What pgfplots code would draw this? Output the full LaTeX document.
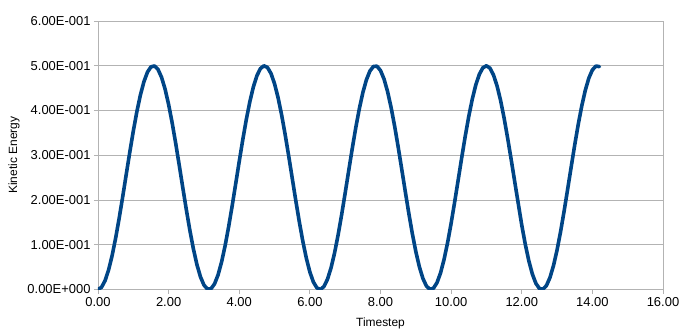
\documentclass[border=0pt]{standalone}
\usepackage{pgfplots}
\pgfplotsset{compat=1.18}
\usepackage{fontspec}
\setmainfont{Liberation Sans}
\definecolor{serblue}{HTML}{004586}
\definecolor{gridgray}{HTML}{B3B3B3}
\begin{document}
\begin{tikzpicture}
\useasboundingbox (-98bp,-46.5bp) rectangle (585bp,289.5bp);
\begin{axis}[
  scale only axis,
  width=565bp, height=268.5bp,
  xmin=0, xmax=16, ymin=0, ymax=0.6,
  xtick={0,2,4,6,8,10,12,14,16},
  xticklabels={0.00,2.00,4.00,6.00,8.00,10.00,12.00,14.00,16.00},
  ytick={0,0.1,0.2,0.3,0.4,0.5,0.6},
  yticklabels={0.00E+000,1.00E-001,2.00E-001,3.00E-001,4.00E-001,5.00E-001,6.00E-001},
  ymajorgrids,
  grid style={gridgray, line width=0.8bp},
  axis line style={gridgray, line width=0.8bp},
  tick style={gridgray, line width=0.8bp},
  tick align=outside,
  xtick pos=bottom, ytick pos=left,
  major tick length=4bp,
  ticklabel style={font=\fontsize{13}{15}\selectfont, black},
  xlabel={Timestep}, ylabel={Kinetic Energy},
  label style={font=\fontsize{12}{14}\selectfont, black},
  xlabel style={at={(axis description cs:0.5,0)}, anchor=center, yshift=-33.5bp},
  ylabel style={at={(axis description cs:0,0.5)}, anchor=center, yshift=84bp},
]
\addplot[serblue, line width=3.6bp, line join=round, line cap=round] coordinates {
(0.0,0) (0.1,0.00498) (0.2,0.01974) (0.3,0.04367) (0.4,0.07582) (0.5,0.11492) (0.6,0.15941) (0.7,0.20751) (0.8,0.25730) (0.9,0.30680)
(1.0,0.35404) (1.1,0.39713) (1.2,0.43435) (1.3,0.46422) (1.4,0.48555) (1.5,0.49749) (1.6,0.49957) (1.7,0.49169) (1.8,0.47419) (1.9,0.44774)
(2.0,0.41341) (2.1,0.37257) (2.2,0.32684) (2.3,0.27804) (2.4,0.22812) (2.5,0.17909) (2.6,0.13287) (2.7,0.09133) (2.8,0.05611) (2.9,0.02862)
(3.0,0.00996) (3.1,0.00086) (3.2,0.00170) (3.3,0.01244) (3.4,0.03265) (3.5,0.06152) (3.6,0.09791) (3.7,0.14036) (3.8,0.18719) (3.9,0.23652)
(4.0,0.28638) (4.1,0.33479) (4.2,0.37983) (4.3,0.41968) (4.4,0.45277) (4.5,0.47778) (4.6,0.49371) (4.7,0.49992) (4.8,0.49616) (4.9,0.48260)
(5.0,0.45977) (5.1,0.42856) (5.2,0.39024) (5.3,0.34635) (5.4,0.29858) (5.5,0.24890) (5.6,0.19925) (5.7,0.15163) (5.8,0.10793) (5.9,0.06989)
(6.0,0.03904) (6.1,0.01659) (6.2,0.00345) (6.3,0.00014) (6.4,0.00679) (6.5,0.02314) (6.6,0.04853) (6.7,0.08195) (6.8,0.12207) (6.9,0.16730)
(7.0,0.21582) (7.1,0.26570) (7.2,0.31496) (7.3,0.36162) (7.4,0.40383) (7.5,0.43992) (7.6,0.46844) (7.7,0.48824) (7.8,0.49854) (7.9,0.49894)
(8.0,0.48942) (8.1,0.47035) (8.2,0.44249) (8.3,0.40696) (8.4,0.36517) (8.5,0.31880) (8.6,0.26967) (8.7,0.21976) (8.8,0.17106) (8.9,0.12551)
(9.0,0.08492) (9.1,0.05091) (9.2,0.02484) (9.3,0.00774) (9.4,0.00031) (9.5,0.00282) (9.6,0.01520) (9.7,0.03693) (9.8,0.06715) (9.9,0.10467)
(10.0,0.14798) (10.1,0.19536) (10.2,0.24491) (10.3,0.29467) (10.4,0.34265) (10.5,0.38693) (10.6,0.42575) (10.7,0.45757) (10.8,0.48112) (10.9,0.49549)
(11.0,0.49999) (11.1,0.49456) (11.2,0.47940) (11.3,0.45512) (11.4,0.42278) (11.5,0.38320) (11.6,0.33857) (11.7,0.29074) (11.8,0.24148) (11.9,0.19265)
(12.0,0.14395) (12.1,0.10109) (12.2,0.06416) (12.3,0.03464) (12.4,0.01371) (12.5,0.00220) (12.6,0.00057) (12.7,0.00888) (12.8,0.02680) (12.9,0.05362)
(13.0,0.08827) (13.1,0.12937) (13.2,0.17527) (13.3,0.22416) (13.4,0.27407) (13.5,0.32303) (13.6,0.36908) (13.7,0.41037) (13.8,0.44527) (13.9,0.47240)
(14.0,0.49065) (14.1,0.49930) (14.2,0.49802)
};
\end{axis}
\end{tikzpicture}
\end{document}
